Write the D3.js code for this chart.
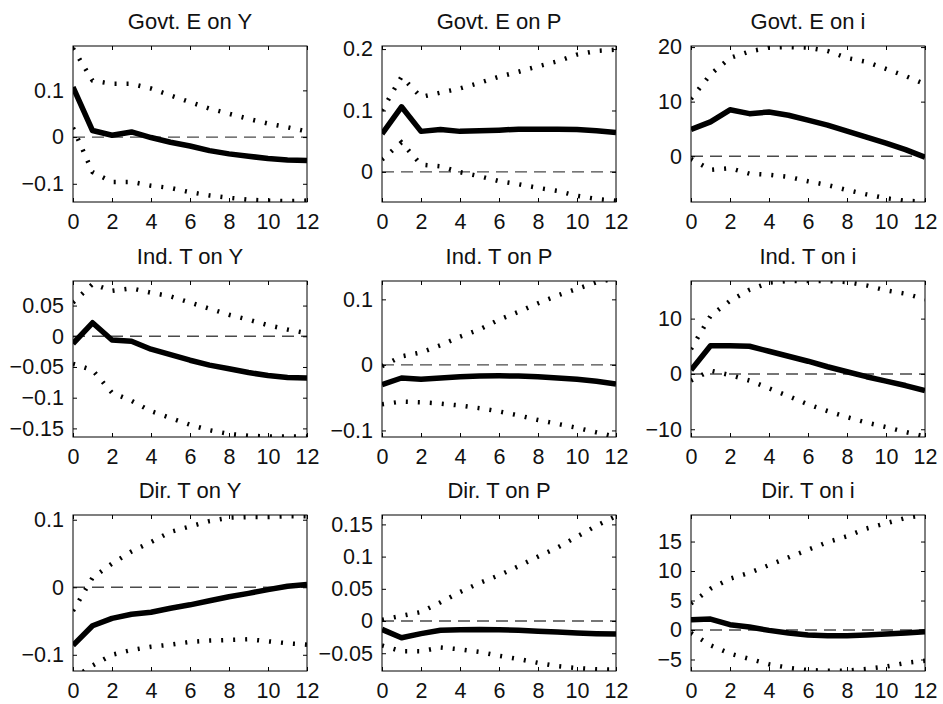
<!DOCTYPE html>
<html>
<head>
<meta charset="utf-8">
<script src="https://cdn.jsdelivr.net/npm/d3@7"></script>
<style>
  body { margin: 0; background: #fff; }
  text { font-family: "Liberation Sans", Arial, sans-serif; fill: #111; }
</style>
</head>
<body>
<script>
var width = 943;
var height = 704;

// horizon (months) shared by every panel
var steps = [0,1,2,3,4,5,6,7,8,9,10,11,12];
var xTicks = [0,2,4,6,8,10,12];

var titles = ["Govt. E on Y","Govt. E on P","Govt. E on i",
              "Ind. T on Y","Ind. T on P","Ind. T on i",
              "Dir. T on Y","Dir. T on P","Dir. T on i"];

// point responses
var irfGovY = [0.107,0.014,0.004,0.011,-0.001,-0.011,-0.019,-0.029,-0.036,-0.041,-0.046,-0.049,-0.05];
var irfGovP = [0.062,0.106,0.066,0.069,0.066,0.067,0.068,0.0695,0.0695,0.0695,0.069,0.067,0.064];
var irfGovI = [4.9,6.3,8.5,7.8,8.1,7.5,6.6,5.7,4.6,3.5,2.4,1.2,-0.2];
var irfIndY = [-0.012,0.022,-0.006,-0.008,-0.021,-0.03,-0.039,-0.047,-0.053,-0.059,-0.064,-0.067,-0.068];
var irfIndP = [-0.03,-0.02,-0.022,-0.02,-0.018,-0.017,-0.0167,-0.017,-0.018,-0.02,-0.022,-0.025,-0.029];
var irfIndI = [0.7,5.1,5.1,5.0,4.1,3.2,2.3,1.3,0.4,-0.5,-1.3,-2.1,-3.0];
var irfDirY = [-0.086,-0.057,-0.046,-0.04,-0.037,-0.031,-0.026,-0.02,-0.014,-0.009,-0.0035,0.0015,0.004];
var irfDirP = [-0.013,-0.026,-0.0196,-0.0144,-0.0134,-0.013,-0.0134,-0.0144,-0.016,-0.017,-0.0186,-0.0196,-0.02];
var irfDirI = [1.75,1.86,0.9,0.5,-0.06,-0.5,-0.85,-0.96,-0.96,-0.85,-0.68,-0.5,-0.28];

// upper bands
var hiGovY = [0.19,0.121,0.114,0.114,0.104,0.089,0.075,0.061,0.05,0.039,0.029,0.021,0.012];
var hiGovP = [0.1,0.155,0.122,0.129,0.136,0.145,0.155,0.163,0.172,0.18,0.191,0.197,0.199];
var hiGovI = [10.5,15,18,19.2,19.9,20,19.9,19.3,18,17.3,16,14.7,13.2];
var hiIndY = [0.055,0.085,0.074,0.078,0.071,0.065,0.055,0.045,0.035,0.027,0.018,0.011,0.005];
var hiIndP = [-0.002,0.013,0.019,0.03,0.043,0.054,0.069,0.081,0.094,0.106,0.116,0.126,0.132];
var hiIndI = [4.5,10.5,13.2,15.2,16.5,16.8,16.8,16.8,16.6,16,15.1,14.5,13.5];
var hiDirY = [-0.035,0.014,0.035,0.053,0.067,0.082,0.09,0.098,0.103,0.104,0.104,0.105,0.105];
var hiDirP = [0.002,0.008,0.014,0.029,0.045,0.059,0.071,0.085,0.1,0.114,0.131,0.148,0.163];
var hiDirI = [4.5,7,8.7,9.7,11,12.3,13.6,14.9,15.9,17.2,18.1,19,19.5];

// lower bands
var loGovY = [0.02,-0.075,-0.096,-0.096,-0.104,-0.109,-0.118,-0.125,-0.13,-0.134,-0.136,-0.137,-0.136];
var loGovP = [0.02,0.048,0.012,0.009,-0.0005,-0.007,-0.015,-0.02,-0.026,-0.031,-0.039,-0.044,-0.047];
var loGovI = [-0.5,-2.5,-2.2,-3.2,-3.4,-3.8,-4.6,-5.3,-6.2,-7,-7.7,-8.2,-8.3];
var loIndY = [-0.045,-0.055,-0.092,-0.105,-0.122,-0.133,-0.144,-0.153,-0.159,-0.162,-0.163,-0.163,-0.163];
var loIndP = [-0.06,-0.056,-0.057,-0.059,-0.062,-0.066,-0.071,-0.077,-0.084,-0.09,-0.096,-0.103,-0.11];
var loIndI = [-1.2,0.6,-0.2,-1.2,-2.6,-4.0,-5.5,-6.7,-7.8,-8.8,-9.6,-10.5,-11.3];
var loDirY = [-0.135,-0.116,-0.1,-0.093,-0.088,-0.085,-0.081,-0.079,-0.078,-0.077,-0.08,-0.083,-0.085];
var loDirP = [-0.038,-0.047,-0.047,-0.041,-0.044,-0.048,-0.054,-0.059,-0.065,-0.07,-0.073,-0.075,-0.0755];
var loDirI = [-0.5,-2.6,-4,-4.9,-5.8,-6.4,-6.8,-6.9,-6.9,-6.6,-6.2,-5.6,-5.2];

// axis limits and tick values
var yLimits = [[-0.139,0.195],[-0.049,0.205],[-8.4,20.2],
               [-0.164,0.09],[-0.11,0.128],[-11.4,16.8],
               [-0.124,0.107],[-0.0776,0.1646],[-6.95,19.5]];
var yTickVals = [[-0.1,0,0.1],[0,0.1,0.2],[0,10,20],
                 [-0.15,-0.1,-0.05,0,0.05],[-0.1,0,0.1],[-10,0,10],
                 [-0.1,0,0.1],[-0.05,0,0.05,0.1,0.15],[-5,0,5,10,15]];

var irfs = [irfGovY,irfGovP,irfGovI,irfIndY,irfIndP,irfIndI,irfDirY,irfDirP,irfDirI];
var his  = [hiGovY,hiGovP,hiGovI,hiIndY,hiIndP,hiIndI,hiDirY,hiDirP,hiDirI];
var los  = [loGovY,loGovP,loGovI,loIndY,loIndP,loIndI,loDirY,loDirP,loDirI];

var colLeft = [73,382,691];
var rowTop = [46,281,515];
var pw = 234, ph = 156;

var svg = d3.select("body").append("svg")
            .attr("width",width)
            .attr("height",height);

function fmt(v){ return String(v).replace("-","\u2212"); }

titles.forEach(function(t,i){
    var col = i % 3, row = Math.floor(i/3);
    var g = svg.append("g")
               .attr("transform","translate(" + colLeft[col] + "," + rowTop[row] + ")");

    var x = d3.scaleLinear().domain([0,12]).range([0,pw]);
    var y = d3.scaleLinear().domain(yLimits[i]).range([ph,0]);

    g.append("clipPath").attr("id","clip"+i)
     .append("rect").attr("width",pw).attr("height",ph);

    var plot = g.append("g").attr("clip-path","url(#clip"+i+")");

    // zero reference
    plot.append("line")
        .attr("x1",x(0)).attr("x2",x(12))
        .attr("y1",y(0)).attr("y2",y(0))
        .attr("stroke","#4a4a4a")
        .attr("stroke-width",1.4)
        .attr("stroke-dasharray","12,7");

    var line = d3.line()
                 .x(function(d,k){ return x(steps[k]); })
                 .y(function(d){ return y(d); });

    [his[i],los[i]].forEach(function(b){
        plot.append("path")
            .attr("d",line(b))
            .attr("fill","none")
            .attr("stroke","#000")
            .attr("stroke-width",4.5)
            .attr("stroke-dasharray","2,10");
    });

    plot.append("path")
        .attr("d",line(irfs[i]))
        .attr("fill","none")
        .attr("stroke","#000")
        .attr("stroke-width",5.5)
        .attr("stroke-linejoin","round");

    // axes, ticks pointing inward on all sides
    g.append("g").attr("transform","translate(0,"+ph+")")
     .call(d3.axisBottom(x).tickValues(xTicks).tickSize(-4).tickPadding(12))
     .call(function(a){ a.selectAll("text").attr("font-size",21.5); });
    g.append("g")
     .call(d3.axisTop(x).tickValues(xTicks).tickSize(-4).tickFormat(""));
    g.append("g")
     .call(d3.axisLeft(y).tickValues(yTickVals[i]).tickSize(-4).tickPadding(9).tickFormat(fmt))
     .call(function(a){ a.selectAll("text").attr("font-size",21.5); });
    g.append("g").attr("transform","translate("+pw+",0)")
     .call(d3.axisRight(y).tickValues(yTickVals[i]).tickSize(-4).tickFormat(""));

    g.selectAll(".domain").remove();
    g.selectAll(".tick line").attr("stroke","#000");
    g.append("rect")
     .attr("width",pw).attr("height",ph)
     .attr("fill","none").attr("stroke","#000").attr("stroke-width",1);

    g.append("text")
     .attr("x",pw/2).attr("y",-17)
     .attr("text-anchor","middle")
     .attr("font-size",22)
     .text(t);
});
</script>
</body>
</html>
